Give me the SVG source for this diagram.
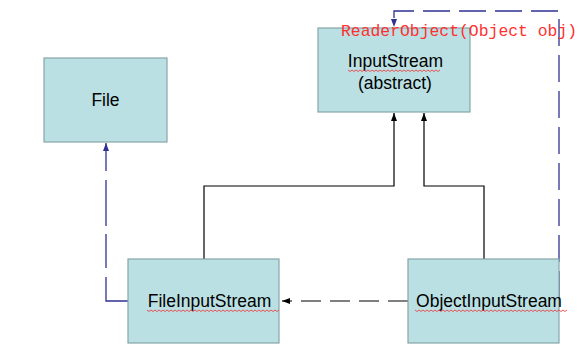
<svg xmlns="http://www.w3.org/2000/svg" width="588" height="363" viewBox="0 0 588 363">
  <style>
    .box { fill: #bbe0e3; stroke: #86a5a8; stroke-width: 1.2; }
    .lbl { font-family: "Liberation Sans", Arial, sans-serif; font-size: 17.5px; fill: #000; text-anchor: middle; }
    .dep { fill: none; stroke: #2e3192; stroke-width: 1.3; }
    .inh { fill: none; stroke: #000; stroke-width: 1.2; }
    .use { fill: none; stroke: #000; stroke-width: 1.2; stroke-dasharray: 20 9; }
    .squig { fill: none; stroke: #f03030; stroke-width: 0.8; }
    .note { font-family: "Liberation Mono", "Courier New", monospace; font-size: 16.4px; fill: #ff3030; }
  </style>
  <defs>
    <marker id="arrBlack" viewBox="0 0 8 8" refX="8" refY="4" markerWidth="8" markerHeight="8" markerUnits="userSpaceOnUse" orient="auto">
      <path d="M0,1 L8,4 L0,7 Z" fill="#000"/>
    </marker>
    <marker id="arrBlue" viewBox="0 0 8 8" refX="8" refY="4" markerWidth="8" markerHeight="8" markerUnits="userSpaceOnUse" orient="auto">
      <path d="M0,1 L8,4 L0,7 Z" fill="#2e3192"/>
    </marker>
  </defs>

  <g id="connectors">
    <!-- FileInputStream extends InputStream -->
    <path class="inh" d="M204,259 V186 H394 V113" marker-end="url(#arrBlack)"/>
    <!-- ObjectInputStream extends InputStream -->
    <path class="inh" d="M484,259 V186 H424 V113" marker-end="url(#arrBlack)"/>
    <!-- ObjectInputStream uses FileInputStream -->
    <path class="use" d="M408,301 H282" marker-end="url(#arrBlack)"/>
    <!-- FileInputStream depends on File -->
    <path class="dep" d="M128,301 H106 V143" stroke-dasharray="46 9 34 8" marker-end="url(#arrBlue)"/>
    <!-- ObjectInputStream wraps an InputStream -->
    <path class="dep" d="M559,298 V11 H394 V27" stroke-dasharray="27 9" marker-end="url(#arrBlue)"/>
  </g>

  <g id="file">
    <rect class="box" x="44" y="58" width="123" height="84"/>
    <text class="lbl" x="105.5" y="106">File</text>
  </g>

  <g id="inputstream">
    <rect class="box" x="318" y="28" width="152" height="84"/>
    <text class="lbl" x="395.5" y="67">InputStream</text>
    <text class="lbl" x="395" y="89">(abstract)</text>
    <path class="squig" d="M348,70 l2,1.5 l2,-1.5 l2,1.5 l2,-1.5 l2,1.5 l2,-1.5 l2,1.5 l2,-1.5 l2,1.5 l2,-1.5 l2,1.5 l2,-1.5 l2,1.5 l2,-1.5 l2,1.5 l2,-1.5 l2,1.5 l2,-1.5 l2,1.5 l2,-1.5 l2,1.5 l2,-1.5 l2,1.5 l2,-1.5 l2,1.5 l2,-1.5 l2,1.5 l2,-1.5 l2,1.5 l2,-1.5 l2,1.5 l2,-1.5 l2,1.5 l2,-1.5 l2,1.5 l2,-1.5 l2,1.5 l2,-1.5 l2,1.5 l2,-1.5 l2,1.5 l2,-1.5 l2,1.5 l2,-1.5 l2,1.5 l2,-1.5"/>
  </g>

  <g id="fileinputstream">
    <rect class="box" x="128" y="259" width="151" height="84"/>
    <text class="lbl" x="209.5" y="307">FileInputStream</text>
    <path class="squig" d="M147,310 l2,1.5 l2,-1.5 l2,1.5 l2,-1.5 l2,1.5 l2,-1.5 l2,1.5 l2,-1.5 l2,1.5 l2,-1.5 l2,1.5 l2,-1.5 l2,1.5 l2,-1.5 l2,1.5 l2,-1.5 l2,1.5 l2,-1.5 l2,1.5 l2,-1.5 l2,1.5 l2,-1.5 l2,1.5 l2,-1.5 l2,1.5 l2,-1.5 l2,1.5 l2,-1.5 l2,1.5 l2,-1.5 l2,1.5 l2,-1.5 l2,1.5 l2,-1.5 l2,1.5 l2,-1.5 l2,1.5 l2,-1.5 l2,1.5 l2,-1.5 l2,1.5 l2,-1.5 l2,1.5 l2,-1.5 l2,1.5 l2,-1.5 l2,1.5 l2,-1.5 l2,1.5 l2,-1.5 l2,1.5 l2,-1.5 l2,1.5 l2,-1.5 l2,1.5 l2,-1.5 l2,1.5 l2,-1.5 l2,1.5 l2,-1.5 l2,1.5 l2,-1.5 l2,1.5 l2,-1.5 l2,1.5 l2,-1.5"/>
  </g>

  <g id="objectinputstream">
    <rect class="box" x="408" y="259" width="151" height="84"/>
    <text class="lbl" x="489" y="307">ObjectInputStream</text>
    <path class="squig" d="M415,310 l2,1.5 l2,-1.5 l2,1.5 l2,-1.5 l2,1.5 l2,-1.5 l2,1.5 l2,-1.5 l2,1.5 l2,-1.5 l2,1.5 l2,-1.5 l2,1.5 l2,-1.5 l2,1.5 l2,-1.5 l2,1.5 l2,-1.5 l2,1.5 l2,-1.5 l2,1.5 l2,-1.5 l2,1.5 l2,-1.5 l2,1.5 l2,-1.5 l2,1.5 l2,-1.5 l2,1.5 l2,-1.5 l2,1.5 l2,-1.5 l2,1.5 l2,-1.5 l2,1.5 l2,-1.5 l2,1.5 l2,-1.5 l2,1.5 l2,-1.5 l2,1.5 l2,-1.5 l2,1.5 l2,-1.5 l2,1.5 l2,-1.5 l2,1.5 l2,-1.5 l2,1.5 l2,-1.5 l2,1.5 l2,-1.5 l2,1.5 l2,-1.5 l2,1.5 l2,-1.5 l2,1.5 l2,-1.5 l2,1.5 l2,-1.5 l2,1.5 l2,-1.5 l2,1.5 l2,-1.5 l2,1.5 l2,-1.5 l2,1.5 l2,-1.5 l2,1.5 l2,-1.5 l2,1.5 l2,-1.5 l2,1.5 l2,-1.5 l2,1.5 l2,-1.5"/>
  </g>

  <text class="note" x="341" y="36">ReaderObject(Object obj)</text>
</svg>
